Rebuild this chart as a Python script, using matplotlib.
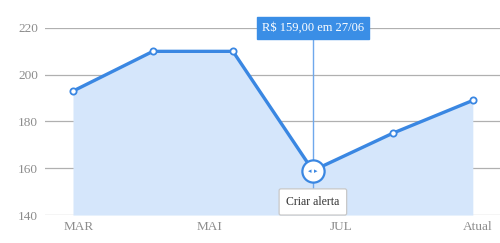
import matplotlib.pyplot as plt

# data
points = [0, 1, 2, 3, 4, 5]
prices = [193, 210, 210, 159, 175, 189]
tick_pos = [0.07, 1.71, 3.35, 5.06]
tick_labels = ["MAR", "MAI", "JUL", "Atual"]
y_ticks = [140, 160, 180, 200, 220]
sel = 3
tooltip = "R$ 159,00 em 27/06"

line_c = "#3a87e2"
fill_c = "#d5e6fb"
grid_c = "#b0b0b0"
text_c = "#8c8c8c"

plt.rcParams["font.family"] = ["Liberation Serif", "DejaVu Serif"]

fig = plt.figure(figsize=(5.0, 2.43), dpi=100)
ax = fig.add_axes([0.09, 0.115, 0.91, 0.77])
ax.set_xlim(-0.35, 5.34)
ax.set_ylim(140, 220)

for y in y_ticks:
    ax.axhline(y, color=grid_c, lw=0.9, zorder=0)

ax.fill_between(points, prices, 140, color=fill_c, lw=0, zorder=1)
ax.axvline(points[sel], ymax=1.0, color="#6fa8ec", lw=1.0, zorder=2)
ax.plot(points, prices, color=line_c, lw=2.4, zorder=3)
ax.plot([p for i, p in enumerate(points) if i != sel],
        [v for i, v in enumerate(prices) if i != sel],
        "o", ms=4.5, mfc="white", mec=line_c, mew=1.3, zorder=4)

# selected point handle
ax.plot(points[sel], prices[sel], "o", ms=16, mfc="white", mec=line_c, mew=1.6, zorder=5)
ax.annotate("\u25c2", (points[sel], prices[sel]), xytext=(-2.2, 0), textcoords="offset points",
            color=line_c, fontsize=5, ha="center", va="center", zorder=6, family="DejaVu Sans")
ax.annotate("\u25b8", (points[sel], prices[sel]), xytext=(2.2, 0), textcoords="offset points",
            color=line_c, fontsize=5, ha="center", va="center", zorder=6, family="DejaVu Sans")

# tooltip
ax.text(points[sel], 220, tooltip, color="white", fontsize=9, ha="center", va="center",
        zorder=7, clip_on=False,
        bbox=dict(boxstyle="square,pad=0.42", fc="#3a8ee6", ec="#3a8ee6"))

ax.text(points[sel], 145.6, "Criar alerta", color="#333333", fontsize=8.5, ha="center",
        va="center", zorder=7,
        bbox=dict(boxstyle="round,pad=0.6,rounding_size=0.15", fc="white", ec="#c8c8c8", lw=0.9))

ax.set_yticks(y_ticks)
ax.set_xticks(tick_pos)
ax.set_xticklabels(tick_labels)
ax.tick_params(length=0, labelsize=9.5, colors=text_c, pad=4)
ax.tick_params(axis="y", pad=5)
for s in ax.spines.values():
    s.set_visible(False)

fig.savefig("out.png", dpi=100)
